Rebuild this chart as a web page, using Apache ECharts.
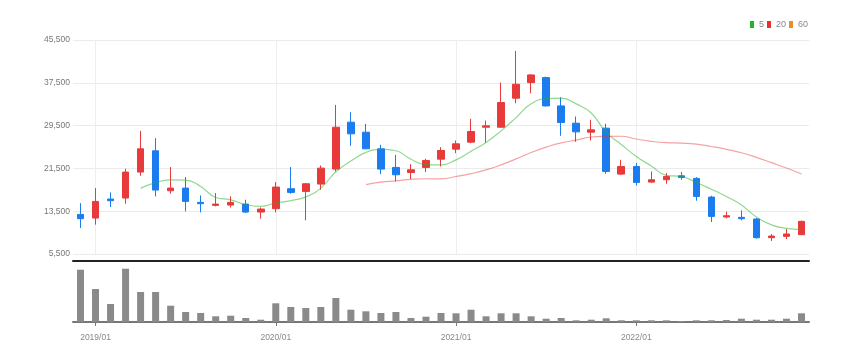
<!DOCTYPE html>
<html>
<head>
<meta charset="utf-8">
<script src="https://cdn.jsdelivr.net/npm/echarts@6/dist/echarts.min.js"></script>
<style>html,body{margin:0;padding:0;background:#fff;}#c{width:860px;height:363px;}</style>
</head>
<body>
<div id="c"></div>
<script>
const months = ['2018/12','2019/01','2019/02','2019/03','2019/04','2019/05','2019/06','2019/07','2019/08','2019/09','2019/10','2019/11','2019/12',
'2020/01','2020/02','2020/03','2020/04','2020/05','2020/06','2020/07','2020/08','2020/09','2020/10','2020/11','2020/12',
'2021/01','2021/02','2021/03','2021/04','2021/05','2021/06','2021/07','2021/08','2021/09','2021/10','2021/11','2021/12',
'2022/01','2022/02','2022/03','2022/04','2022/05','2022/06','2022/07','2022/08','2022/09','2022/10','2022/11','2022/12'];
const openV  = [12900,12220,15770,15960,20810,24790,17320,17820,15150,14590,14650,14830,13340,13970,17700,17200,18570,21370,30140,28270,25160,21680,20740,21680,23230,25100,26410,29200,29200,34620,37540,38470,33180,29950,28270,29020,20430,21860,18940,19380,20120,19630,16140,12410,12350,12040,8550,8800,9110];
const closeV = [12100,15330,15460,20810,25160,17450,17820,15330,14900,14830,15150,13340,13900,18010,17010,18630,21550,29200,27960,25160,21370,20310,21240,22980,24850,26090,28400,29450,33810,37230,38970,33180,30070,28330,28710,20930,21860,18880,19380,20000,19810,16270,12530,12660,12100,8550,8860,9240,11600];
const lowV   = [10350,10980,14280,14900,20120,16270,16760,13470,13280,14400,14210,13160,12100,13280,16760,11790,17510,20930,25720,25100,20430,19070,19500,20810,21860,24350,26220,26340,29140,33680,35550,33060,27590,26470,26720,20500,20310,18320,18820,18630,19380,15460,11480,12160,11790,8370,7930,8300,9050];
const highV  = [15000,17820,17010,21430,28520,27150,21740,19870,16450,16890,16270,15640,14210,18940,21740,18750,22050,33370,32000,29830,25910,24040,22300,23300,25470,26720,30760,30450,37540,43450,39090,38660,34800,31190,30570,29830,23110,22490,20930,20620,20810,19870,16390,13410,13650,12220,9240,10170,11730];
const ma5  = ['-','-','-','-',17770,18840,19340,19310,18130,16070,15610,14710,14420,15050,15480,16180,17820,20880,22870,24500,25050,24800,23210,22210,22150,23090,24710,26350,28520,31000,33570,34530,34650,33560,31850,28240,25980,23740,21950,20210,19990,18870,17600,16250,14670,12420,10940,10280,10070];
const ma20 = ['-','-','-','-','-','-','-','-','-','-','-','-','-','-','-','-','-','-','-',18460,18920,19170,19460,19570,19550,19980,20510,21220,22160,23280,24470,25470,26270,26790,27370,27490,27510,26990,26560,26300,26220,26020,25590,25070,24430,23560,22580,21570,20460];
const ma60 = months.map(() => '-');
const volume = [5230000,3300000,1800000,5330000,3000000,3000000,1630000,1000000,900000,570000,630000,400000,230000,1870000,1500000,1400000,1500000,2400000,1230000,1070000,900000,1000000,400000,530000,900000,870000,1230000,570000,870000,870000,570000,330000,400000,170000,230000,370000,170000,170000,170000,170000,100000,170000,170000,200000,330000,230000,230000,330000,870000];
const yTicks = [5500, 13500, 21500, 29500, 37500, 45500];
const yearMarks = ['2019/01','2020/01','2021/01','2022/01'];

const candles = months.map((m, i) => [openV[i], closeV[i], lowV[i], highV[i]]);
const isJan = (idx, val) => /\/01$/.test(val);
const labelFont = "'Liberation Sans', Arial, sans-serif";

const chart = echarts.init(document.getElementById('c'), null, {renderer: 'canvas'});
chart.setOption({
  animation: false,
  backgroundColor: '#fff',
  legend: {
    right: 52, top: 20, icon: 'rect', itemWidth: 4, itemHeight: 7, itemGap: 3, padding: 0,
    textStyle: {fontSize: 9, color: '#888', fontFamily: labelFont},
    data: [
      {name: '5', itemStyle: {color: '#22b422'}},
      {name: '20', itemStyle: {color: '#e83030'}},
      {name: '60', itemStyle: {color: '#f08c28'}}
    ]
  },
  grid: [
    {left: 73, right: 51, top: 40, bottom: 109},
    {left: 73, right: 51, top: 268, bottom: 41}
  ],
  xAxis: [
    {
      type: 'category', data: months, gridIndex: 0, boundaryGap: true,
      offset: 7,
      axisLine: {lineStyle: {color: '#222', width: 2}},
      axisTick: {show: false}, axisLabel: {show: false}, splitLine: {show: false}
    },
    {
      type: 'category', data: months, gridIndex: 1, boundaryGap: true,
      axisLine: {lineStyle: {color: '#777', width: 2}},
      axisTick: {show: true, interval: isJan, alignWithLabel: true, length: 4, lineStyle: {color: '#777'}},
      axisLabel: {interval: isJan, fontSize: 8.5, color: '#888', margin: 11, fontFamily: labelFont},
      splitLine: {show: false}
    }
  ],
  yAxis: [
    {
      type: 'value', gridIndex: 0, min: yTicks[0], max: yTicks[yTicks.length - 1], interval: 8000,
      axisLine: {show: false}, axisTick: {show: false},
      axisLabel: {fontSize: 8.5, color: '#777', margin: 3, fontFamily: labelFont,
        formatter: v => v.toLocaleString('en-US')},
      splitLine: {lineStyle: {color: '#ebebeb', width: 1}}
    },
    {
      type: 'value', gridIndex: 1, min: 0, max: 5400000, show: false,
      splitLine: {show: false}
    }
  ],
  series: [
    {
      name: 'candle', type: 'candlestick', xAxisIndex: 0, yAxisIndex: 0, data: candles, barWidth: 7,
      itemStyle: {color: '#e83a3a', color0: '#1a7cef', borderColor: '#e83a3a', borderColor0: '#1a7cef', borderWidth: 1},
      z: 3
    },
    {
      name: '5', type: 'line', xAxisIndex: 0, yAxisIndex: 0, data: ma5, smooth: true, showSymbol: false,
      itemStyle: {color: '#22b422'}, lineStyle: {color: '#22b422', width: 1.2, opacity: 0.5}, z: 4
    },
    {
      name: '20', type: 'line', xAxisIndex: 0, yAxisIndex: 0, data: ma20, smooth: true, showSymbol: false,
      itemStyle: {color: '#e83030'}, lineStyle: {color: '#e83030', width: 1.2, opacity: 0.45}, z: 4
    },
    {
      name: '60', type: 'line', xAxisIndex: 0, yAxisIndex: 0, data: ma60, smooth: true, showSymbol: false,
      itemStyle: {color: '#f08c28'}, lineStyle: {color: '#f08c28', width: 1.2, opacity: 0.5}, z: 1,
      markLine: {
        silent: true, z: 0, symbol: ['none', 'none'], label: {show: false},
        lineStyle: {color: '#eeeeee', width: 1, type: 'solid'},
        emphasis: {disabled: true},
        data: yearMarks.map(m => ({xAxis: m}))
      }
    },
    {
      name: 'vol', type: 'bar', xAxisIndex: 1, yAxisIndex: 1, data: volume, barWidth: 7,
      itemStyle: {color: '#8a8a8a'}
    }
  ]
});
</script>
</body>
</html>
